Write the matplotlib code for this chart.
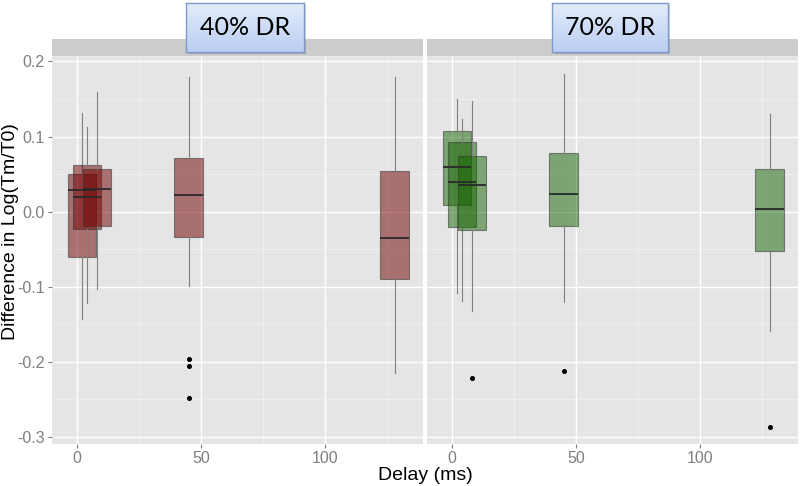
import matplotlib
matplotlib.use("Agg")
import matplotlib.pyplot as plt
import numpy as np
from matplotlib.patches import FancyBboxPatch

plt.rcParams["font.family"] = ["Liberation Sans", "DejaVu Sans"]

# ---------------- data ----------------
delays = [2, 4, 8, 45, 128]
panel_titles = ["40% DR", "70% DR"]

dr40_q1 = [-0.060, -0.0235, -0.0187, -0.0333, -0.0893]
dr40_med = [0.029, 0.0196, 0.030, 0.0227, -0.0355]
dr40_q3 = [0.050, 0.062, 0.057, 0.072, 0.054]
dr40_lo = [-0.1435, -0.122, -0.1035, -0.099, -0.2147]
dr40_hi = [0.131, 0.113, 0.159, 0.179, 0.179]
dr40_out = [[], [], [], [-0.1964, -0.2057, -0.248], []]

dr70_q1 = [0.0093, -0.021, -0.0248, -0.0195, -0.0528]
dr70_med = [0.060, 0.039, 0.0356, 0.0232, 0.0032]
dr70_q3 = [0.1076, 0.093, 0.0743, 0.0778, 0.057]
dr70_lo = [-0.109, -0.1187, -0.132, -0.1208, -0.159]
dr70_hi = [0.150, 0.124, 0.1467, 0.1836, 0.130]
dr70_out = [[], [], [-0.222], [-0.2128], [-0.2875]]

x_ticks = [0, 50, 100]
y_ticks = [-0.3, -0.2, -0.1, 0.0, 0.1, 0.2]

# ---------------- figure ----------------
W, H = 800, 486
fig = plt.figure(figsize=(8, 4.86), dpi=100)
fig.patch.set_facecolor("white")

def fx(px):
    return px / W

def fy(py):
    return 1 - py / H

panel_left = [51.7, 426.7]
panel_w = 371.6
panel_top, panel_bot = 56.5, 444.3
strip_top = 39.5

fills = [(0.45, 0.02, 0.02, 0.52), (0.08, 0.39, 0.0, 0.50)]

data = [
    (dr40_q1, dr40_med, dr40_q3, dr40_lo, dr40_hi, dr40_out),
    (dr70_q1, dr70_med, dr70_q3, dr70_lo, dr70_hi, dr70_out),
]

axes = []
for i in range(2):
    ax = fig.add_axes([fx(panel_left[i]), fy(panel_bot), panel_w / W,
                       (panel_bot - panel_top) / H])
    ax.set_facecolor("#E5E5E5")
    for s in ax.spines.values():
        s.set_visible(False)
    ax.set_xlim(-10.2, 139.6)
    ax.set_ylim(-0.310, 0.2066)
    ax.set_xticks(x_ticks)
    ax.set_xticks([25, 75, 125], minor=True)
    ax.set_yticks(y_ticks)
    ax.set_yticks([-0.25, -0.15, -0.05, 0.05, 0.15], minor=True)
    ax.grid(True, which="major", color="white", linewidth=1.0)
    ax.grid(True, which="minor", color="#F2F2F2", linewidth=0.5)
    ax.set_axisbelow(True)
    ax.tick_params(which="major", length=3, width=0.8, color="#7F7F7F",
                   labelcolor="#7F7F7F", labelsize=11.5, pad=2)
    ax.tick_params(which="minor", length=0)
    ax.set_xticklabels([str(t) for t in x_ticks])
    if i == 0:
        ax.set_yticklabels([f"{t:.1f}" for t in y_ticks])
    else:
        ax.tick_params(axis="y", which="both", left=False, labelleft=False)

    q1, med, q3, lo, hi, out = data[i]
    stats = []
    for k in range(len(delays)):
        stats.append(dict(q1=q1[k], med=med[k], q3=q3[k], whislo=lo[k],
                          whishi=hi[k], fliers=out[k]))
    ax.bxp(stats, positions=delays, widths=11.5, patch_artist=True,
           showcaps=False, manage_ticks=False,
           boxprops=dict(facecolor=fills[i], edgecolor=(0.2, 0.2, 0.2, 0.55),
                         linewidth=0.8),
           medianprops=dict(color="#2a2a2a", linewidth=1.3),
           whiskerprops=dict(color="#808080", linewidth=0.8),
           flierprops=dict(marker="o", markerfacecolor="black",
                           markeredgecolor="black", markersize=2.6,
                           linestyle="none"))
    axes.append(ax)

    # strip
    sax = fig.add_axes([fx(panel_left[i]), fy(panel_top), panel_w / W,
                        (panel_top - strip_top) / H])
    sax.set_facecolor("#CCCCCC")
    sax.set_xticks([])
    sax.set_yticks([])
    for s in sax.spines.values():
        s.set_visible(False)

fig.text(fx(11), fy(232), "Difference in Log(Tm/T0)", fontsize=14,
         rotation=90, ha="center", va="center", color="black")
fig.text(fx(425), fy(475), "Delay (ms)", fontsize=14, ha="center",
         va="center", color="black")

# label call-out boxes
boxes = [(186, 3, 118, 49), (552, 3, 116, 49)]
grad = np.linspace(0, 1, 64).reshape(-1, 1)
top_c = np.array([0.89, 0.93, 0.985])
bot_c = np.array([0.73, 0.81, 0.95])
img = top_c[None, None, :] * (1 - grad[:, :, None]) + bot_c[None, None, :] * grad[:, :, None]

for (bx, by, bw, bh), title in zip(boxes, panel_titles):
    shadow = FancyBboxPatch((fx(bx + 2), fy(by + bh + 2)), bw / W, bh / H,
                            boxstyle="square,pad=0", transform=fig.transFigure,
                            facecolor=(0, 0, 0, 0.18), edgecolor="none",
                            zorder=4)
    fig.patches.append(shadow)
    lax = fig.add_axes([fx(bx), fy(by + bh), bw / W, bh / H], zorder=5)
    lax.imshow(img, aspect="auto", extent=[0, 1, 0, 1], origin="upper")
    lax.set_xlim(0, 1)
    lax.set_ylim(0, 1)
    lax.set_xticks([])
    lax.set_yticks([])
    for s in lax.spines.values():
        s.set_color("#7F9BCB")
        s.set_linewidth(1.0)
    lax.text(0.5, 0.5, title, ha="center", va="center", fontsize=18,
             family="Lato", color="black")

fig.savefig("out.png", dpi=100)
